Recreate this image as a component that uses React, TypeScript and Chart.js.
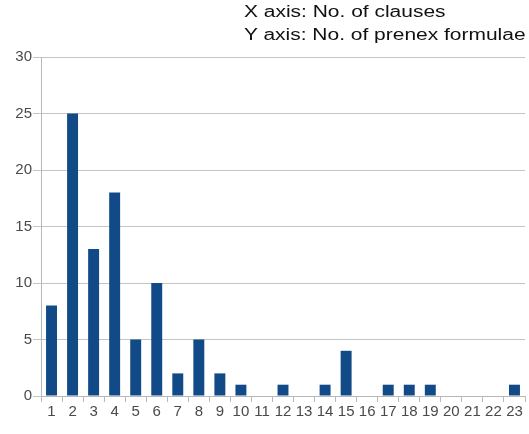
import React, { useEffect, useRef } from "react";
import { Chart, registerables } from "chart.js";

Chart.register(...registerables);

const categories = ["1","2","3","4","5","6","7","8","9","10","11","12","13","14","15","16","17","18","19","20","21","22","23"];
const counts = [8, 25, 13, 18, 5, 10, 2, 5, 2, 1, 0, 1, 0, 1, 4, 0, 1, 1, 1, 0, 0, 0, 1];
const titleLines = ["X axis: No. of clauses", "Y axis: No. of prenex formulae"];

export default function App() {
  const ref = useRef<HTMLCanvasElement | null>(null);
  useEffect(() => {
    document.body.style.margin = "0";
    const chart = new Chart(ref.current!, {
      type: "bar",
      data: {
        labels: categories,
        datasets: [
          {
            data: counts,
            backgroundColor: "#114a86",
            borderWidth: 0,
            barPercentage: 0.52,
            categoryPercentage: 1,
          },
        ],
      },
      options: {
        animation: false,
        responsive: false,
        layout: { padding: { top: 57, right: 4, left: 0, bottom: 0 } },
        plugins: { legend: { display: false }, tooltip: { enabled: false }, title: { display: false } },
        scales: {
          x: {
            offset: true,
            grid: { display: true, drawOnChartArea: false, offset: true, color: "#b8b8b8", tickLength: 6 },
            border: { color: "#b8b8b8" },
            ticks: { color: "#4a4a4a", font: { family: "Liberation Sans", size: 15 }, padding: 1, maxRotation: 0, autoSkip: false },
            afterFit: (s: any) => { s.height = 38; },
          },
          y: {
            min: 0,
            max: 30,
            ticks: { stepSize: 5, color: "#4a4a4a", font: { family: "Liberation Sans", size: 15 }, padding: 1 },
            grid: { color: "#c4c4c4", tickLength: 8 },
            border: { color: "#b8b8b8" },
            afterFit: (s: any) => { s.width = 41; },
          },
        },
      },
    });
    return () => chart.destroy();
  }, []);
  return (
    <div style={{ position: "relative", width: 529, height: 434, background: "#fff", overflow: "hidden" }}>
      <canvas ref={ref} width={529} height={434} />
      <div
        style={{
          position: "absolute",
          left: 244,
          top: 0,
          fontFamily: "Liberation Sans",
          fontSize: 16,
          lineHeight: "23px",
          color: "#111",
          whiteSpace: "nowrap",
          transform: "scaleX(1.31)",
          transformOrigin: "left top",
        }}
      >
        {titleLines.map((t) => (
          <div key={t}>{t}</div>
        ))}
      </div>
    </div>
  );
}
